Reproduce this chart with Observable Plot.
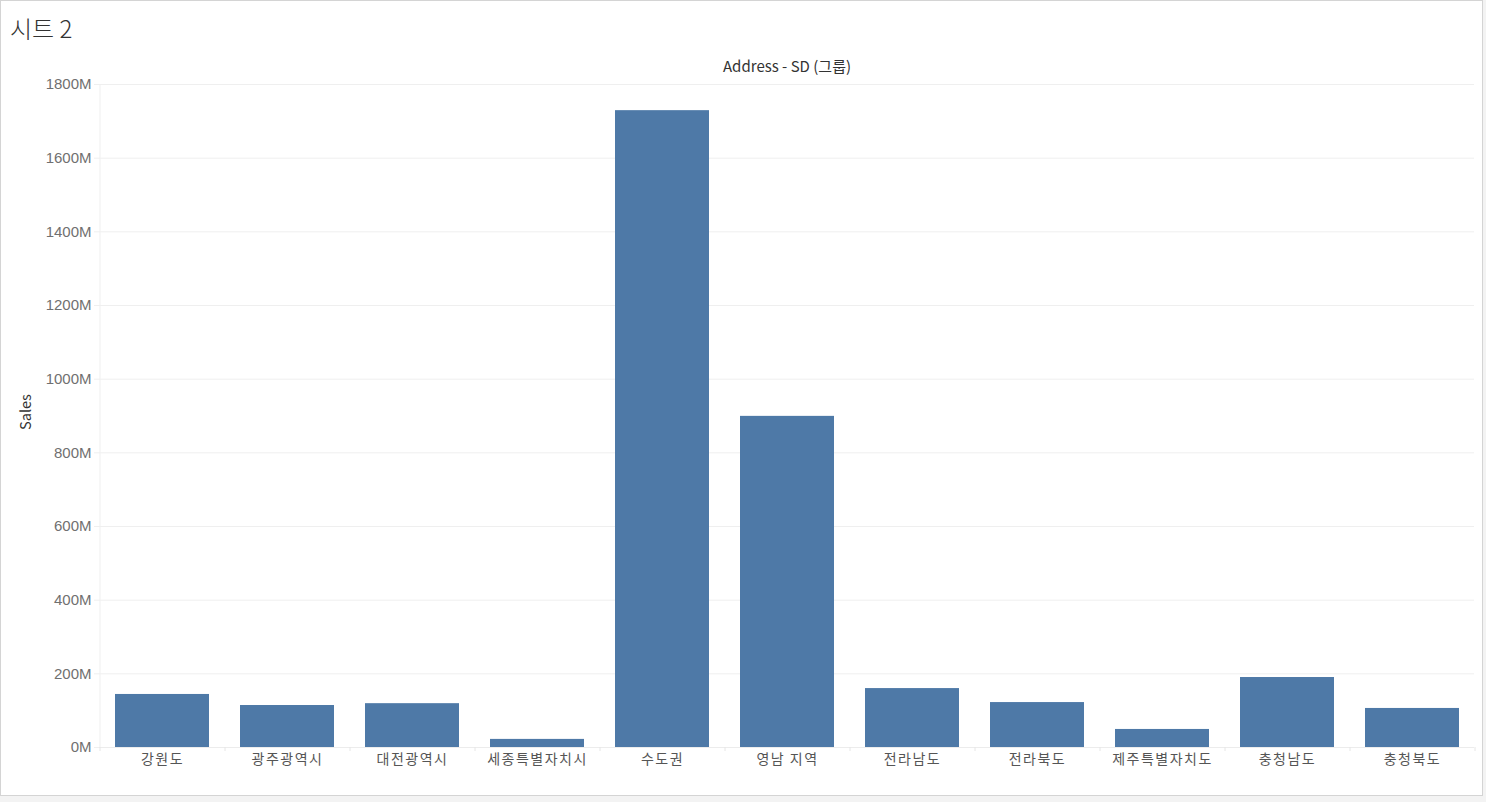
<!DOCTYPE html>
<html>
<head>
<meta charset="utf-8">
<script src="https://cdn.jsdelivr.net/npm/d3@7"></script>
<script src="https://cdn.jsdelivr.net/npm/@observablehq/plot@0.6"></script>
<style>
  html, body { margin: 0; padding: 0; background: #f3f3f3; }
  #frame {
    position: absolute; left: 0; top: 0;
    width: 1481px; height: 794px;
    border: 1px solid #d4d4d4; background: #fff; overflow: hidden;
  }
  #title {
    position: absolute; left: 9px; top: 9px;
    font-family: "Noto Sans CJK KR", "Noto Sans", sans-serif;
    font-size: 24px; font-weight: 300; color: #333;
  }
  #chart { position: absolute; left: 0; top: 39px; }
  #chart g[aria-label="x-axis tick label"] text { letter-spacing: 1.5px; }
</style>
</head>
<body>
<div id="frame">
  <div id="title">시트 2</div>
  <div id="chart"></div>
</div>
<script>
const categories = ["강원도","광주광역시","대전광역시","세종특별자치시","수도권","영남 지역","전라남도","전라북도","제주특별자치도","충청남도","충청북도"];
const sales = [144e6, 114e6, 119e6, 22e6, 1729e6, 899e6, 160e6, 122e6, 49e6, 190e6, 106e6];
const yTicks = [0, 200e6, 400e6, 600e6, 800e6, 1000e6, 1200e6, 1400e6, 1600e6, 1800e6];
const headerText = "Address - SD (그룹)";
const yLabel = "Sales";

const data = categories.map((c, i) => ({category: c, sales: sales[i]}));

const W = 1481, H = 740, mL = 98, mR = 8, mT = 44, mB = 33;
const step = (W - mL - mR) / categories.length;
const font = '"Liberation Sans", "Noto Sans CJK KR", sans-serif';
const krFont = '"Noto Sans CJK KR", "Noto Sans", sans-serif';

const plot = Plot.plot({
  width: W, height: H,
  marginLeft: mL, marginRight: mR, marginTop: mT, marginBottom: mB,
  style: {fontFamily: font, fontSize: "13px", background: "transparent", overflow: "visible"},
  x: {domain: categories, paddingInner: 0.25, paddingOuter: 0.125, label: null},
  y: {domain: [0, 1800e6], label: null},
  marks: [
    Plot.gridY(yTicks, {stroke: "#efefef", strokeOpacity: 1}),
    Plot.ruleX(categories.slice(0, 1), {x: d => d, dx: -step / 2, stroke: "#efefef", strokeOpacity: 1}),
    Plot.ruleY([0], {stroke: "#ececec", strokeOpacity: 1, insetLeft: -5}),
    Plot.ruleX(categories, {x: d => d, y1: 0, y2: -11e6, dx: -step / 2, stroke: "#e6e6e6"}),
    Plot.ruleX(categories.slice(-1), {x: d => d, y1: 0, y2: -11e6, dx: step / 2, stroke: "#e6e6e6"}),
    Plot.barY(data, {x: "category", y: "sales", fill: "#4e79a7"}),
    Plot.axisY(yTicks, {
      tickSize: 5, tickPadding: 3, stroke: "#efefef", fill: "#707070",
      tickFormat: d => d / 1e6 + "M", label: null, fontSize: 15
    }),
    Plot.axisX({
      tickSize: 0, tickPadding: 7, fill: "#555", label: null,
      fontFamily: krFont, fontSize: 14
    }),
    Plot.text([yLabel], {
      frameAnchor: "left", textAnchor: "middle", rotate: -90, dx: -73, dy: -4,
      fill: "#333", fontSize: 14.5, fontFamily: krFont
    }),
    Plot.text([headerText], {
      frameAnchor: "top", lineAnchor: "middle", dy: -17, fill: "#333", fontSize: 15, fontFamily: krFont
    })
  ]
});
document.getElementById("chart").appendChild(plot);
</script>
</body>
</html>
